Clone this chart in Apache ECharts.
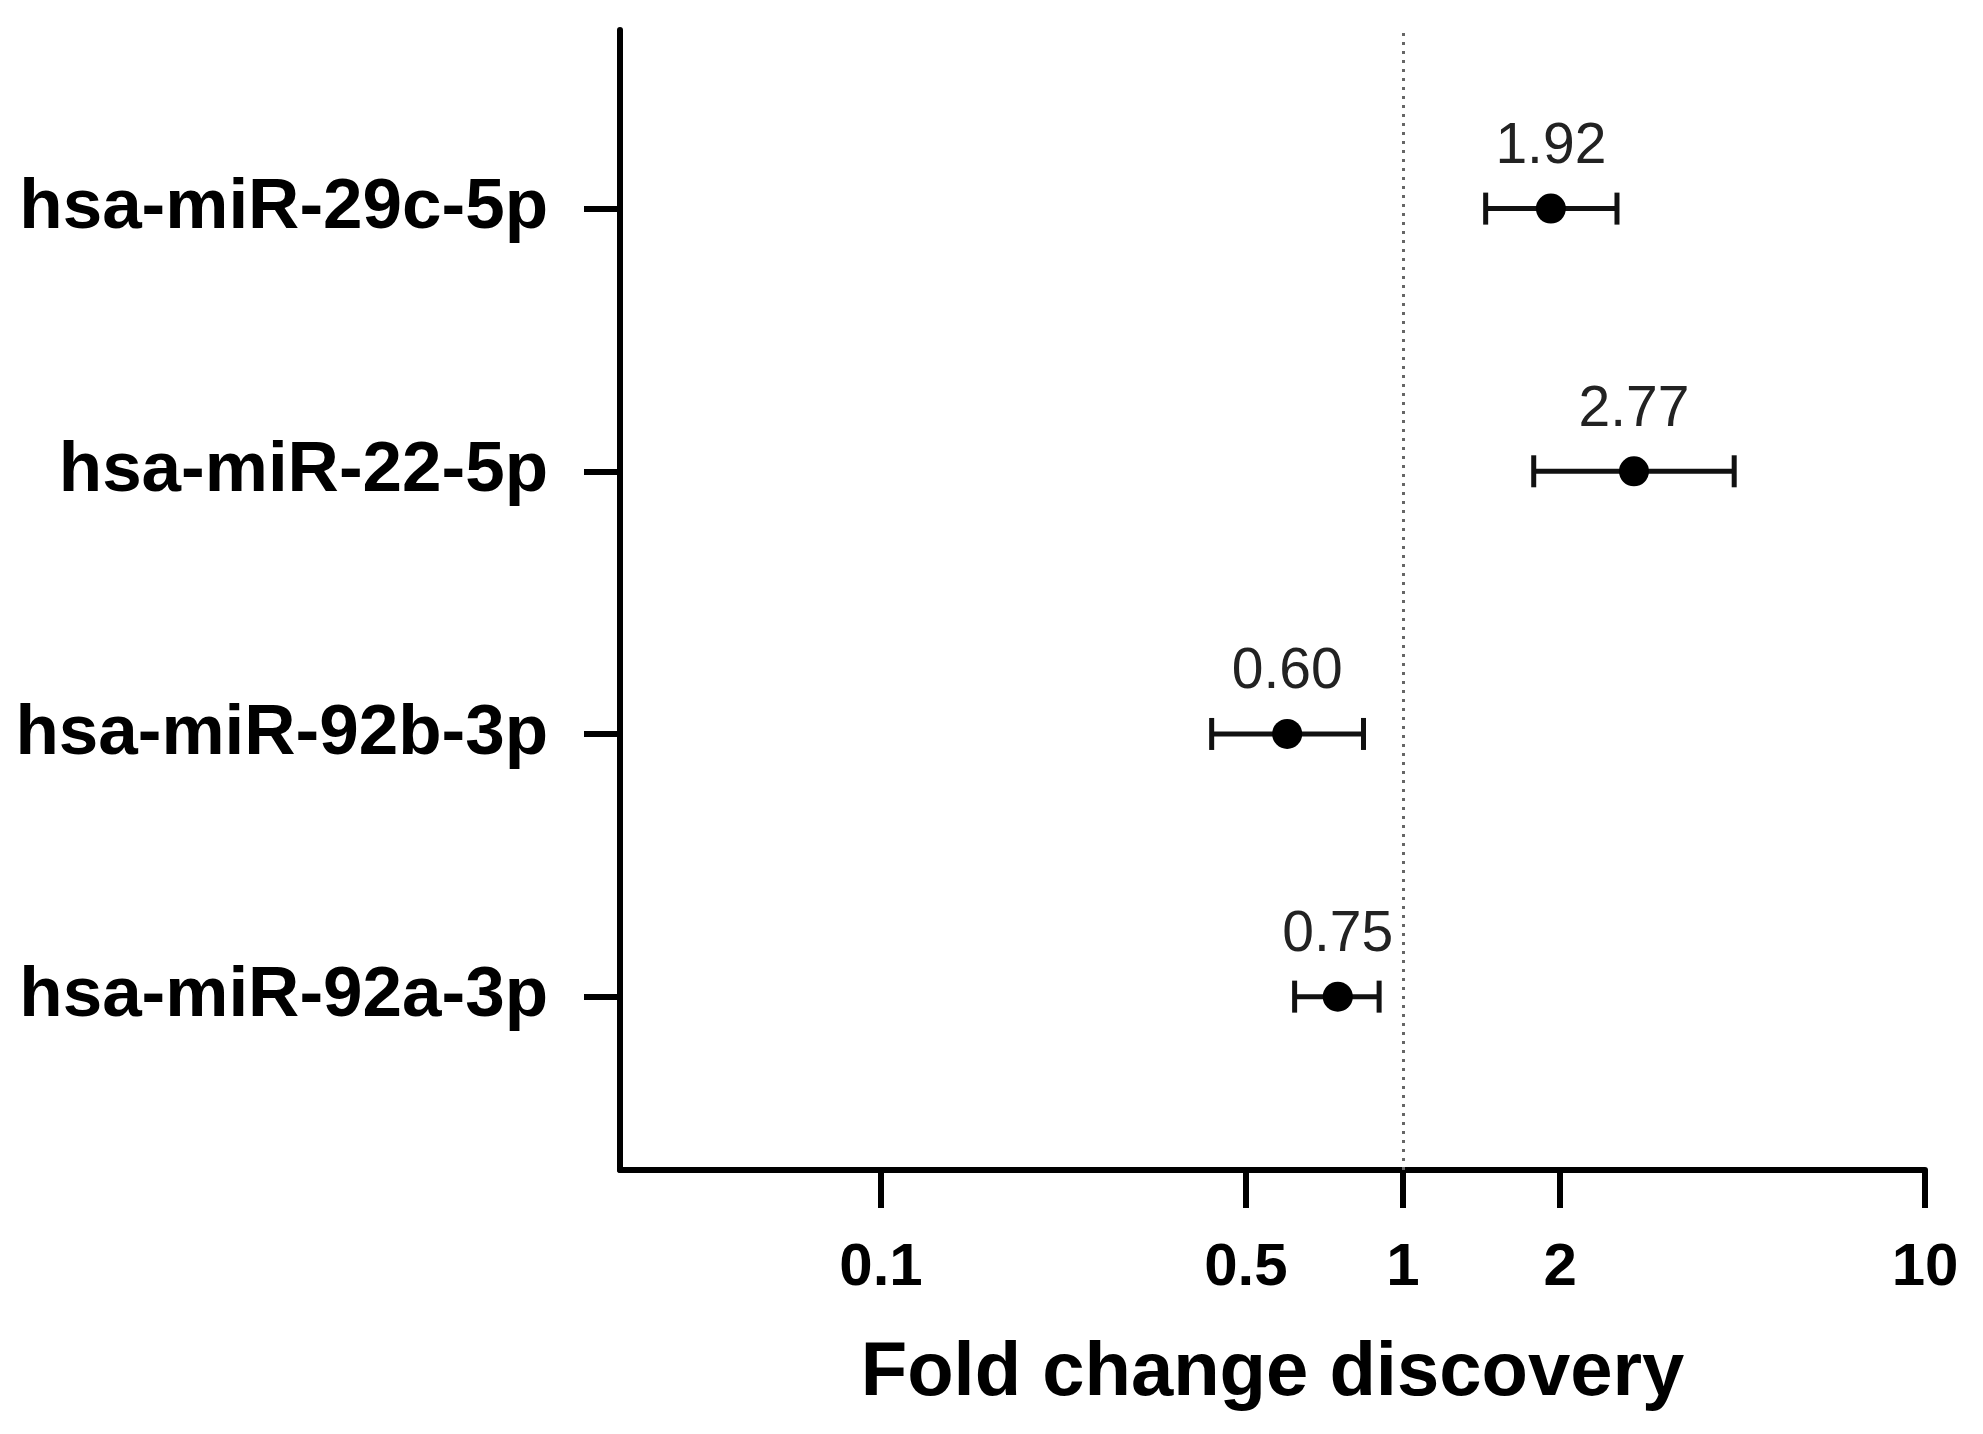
<!DOCTYPE html>
<html>
<head>
<meta charset="utf-8">
<script src="https://cdn.jsdelivr.net/npm/echarts@6/dist/echarts.min.js"></script>
<style>
  html, body { margin: 0; padding: 0; background: #fff; }
  #chart { width: 1983px; height: 1434px; }
</style>
</head>
<body>
<div id="chart"></div>
<script>
// miRNA names, top to bottom, and their row position on the y axis
var mirnas = ['hsa-miR-29c-5p', 'hsa-miR-22-5p', 'hsa-miR-92b-3p', 'hsa-miR-92a-3p'];
var rowPos = [4, 3, 2, 1];
// fold change and error bar ends
var foldChange = [1.92, 2.77, 0.60, 0.75];
var lower = [1.44, 1.78, 0.43, 0.62];
var upper = [2.57, 4.31, 0.84, 0.90];
var xTicks = [0.1, 0.5, 1, 2, 10];

var chart = echarts.init(document.getElementById('chart'));

var points = foldChange.map(function (v, i) { return [v, rowPos[i]]; });
var bars = lower.map(function (v, i) { return [v, upper[i], rowPos[i]]; });

function fmt(v) { return String(Number(Number(v).toPrecision(6))); }

var option = {
  backgroundColor: '#fff',
  animation: false,
  grid: { left: 620, right: 58, top: 30, bottom: 264 },
  xAxis: {
    type: 'log',
    logBase: 10,
    min: Math.pow(10, -1.5),
    max: 10,
    name: 'Fold change discovery',
    nameLocation: 'middle',
    nameGap: 166,
    nameTextStyle: { fontFamily: 'Liberation Sans', fontWeight: 'bold', fontSize: 76, color: '#000' },
    axisLine: { lineStyle: { color: '#000', width: 6 } },
    axisTick: { show: true, length: 38, lineStyle: { color: '#000', width: 6 }, customValues: xTicks },
    axisLabel: {
      customValues: xTicks,
      margin: 68,
      fontFamily: 'Liberation Sans', fontWeight: 'bold', fontSize: 60, color: '#000',
      formatter: fmt
    },
    splitLine: { show: false },
    minorTick: { show: false }
  },
  yAxis: {
    type: 'value',
    min: 0.34,
    max: 4.68,
    axisLine: { show: true, lineStyle: { color: '#000', width: 6 } },
    axisTick: { show: true, length: 36, lineStyle: { color: '#000', width: 6 }, customValues: rowPos },
    axisLabel: {
      customValues: rowPos,
      margin: 72,
      fontFamily: 'Liberation Sans', fontWeight: 'bold', fontSize: 71, color: '#000',
      formatter: function (v) {
        var i = rowPos.indexOf(Math.round(v));
        return i >= 0 ? mirnas[i] : '';
      }
    },
    splitLine: { show: false }
  },
  series: [
    {
      type: 'custom',
      data: bars,
      encode: { x: [0, 1], y: 2 },
      z: 2,
      renderItem: function (params, api) {
        var lo = api.coord([api.value(0), api.value(2)]);
        var hi = api.coord([api.value(1), api.value(2)]);
        var h = 16;
        var st = { stroke: '#111', lineWidth: 5 };
        return {
          type: 'group',
          children: [
            { type: 'line', shape: { x1: lo[0], y1: lo[1], x2: hi[0], y2: hi[1] }, style: st },
            { type: 'line', shape: { x1: lo[0], y1: lo[1] - h, x2: lo[0], y2: lo[1] + h }, style: st },
            { type: 'line', shape: { x1: hi[0], y1: hi[1] - h, x2: hi[0], y2: hi[1] + h }, style: st }
          ]
        };
      }
    },
    {
      type: 'scatter',
      data: points,
      z: 3,
      symbol: 'circle',
      symbolSize: 30,
      itemStyle: { color: '#000', opacity: 1 },
      label: {
        show: true,
        position: 'top',
        distance: 18,
        fontFamily: 'Liberation Sans',
        fontSize: 57,
        color: '#222',
        formatter: function (p) { return p.value[0].toFixed(2); }
      },
      markLine: {
        silent: true,
        symbol: 'none',
        label: { show: false },
        lineStyle: { color: '#666', width: 3, type: [3, 6] },
        data: [{ xAxis: 1 }]
      }
    }
  ]
};

chart.setOption(option);
</script>
</body>
</html>
